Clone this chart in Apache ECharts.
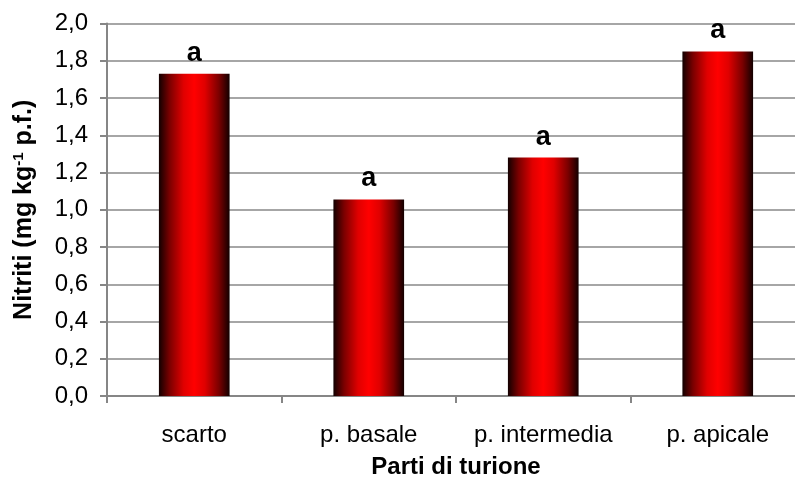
<!DOCTYPE html>
<html>
<head>
<meta charset="utf-8">
<script src="https://cdn.jsdelivr.net/npm/echarts@6/dist/echarts.min.js"></script>
<style>
  html, body { margin: 0; padding: 0; background: #fff; }
  #chart { width: 795px; height: 488px; }
</style>
</head>
<body>
<div id="chart"></div>
<script>
// Parti di turione e contenuto di nitriti
const categories = ['scarto', 'p. basale', 'p. intermedia', 'p. apicale'];
const nitriti = [1.73, 1.055, 1.28, 1.85];
const letters = ['a', 'a', 'a', 'a'];
const yTicks = { min: 0, max: 2, interval: 0.2 };

const FONT = '"Liberation Sans", Arial, sans-serif';

const barGradient = new echarts.graphic.LinearGradient(0, 0, 1, 0, [
  { offset: 0, color: '#120000' },
  { offset: 0.15, color: '#7a0000' },
  { offset: 0.35, color: '#e00000' },
  { offset: 0.5, color: '#ff0000' },
  { offset: 0.65, color: '#e00000' },
  { offset: 0.85, color: '#7a0000' },
  { offset: 1, color: '#120000' }
]);

const chart = echarts.init(document.getElementById('chart'), null, { renderer: 'canvas' });

chart.setOption({
  animation: false,
  backgroundColor: '#ffffff',
  grid: { left: 107, top: 23.5, width: 698, height: 372.5, containLabel: false, outerBoundsMode: 'none' },
  xAxis: {
    type: 'category',
    data: categories,
    name: 'Parti di turione',
    nameLocation: 'middle',
    nameGap: 59,
    nameTextStyle: { fontFamily: FONT, fontSize: 24, fontWeight: 'bold', color: '#000' },
    axisLine: { lineStyle: { color: '#868686', width: 2 } },
    axisTick: { show: true, interval: 0, length: 7, lineStyle: { color: '#868686', width: 2 } },
    axisLabel: { interval: 0, hideOverlap: false, fontFamily: FONT, fontSize: 24, color: '#000', margin: 27 },
    splitLine: { show: false }
  },
  yAxis: {
    type: 'value',
    min: yTicks.min,
    max: yTicks.max,
    interval: yTicks.interval,
    name: '{b|Nitriti (mg kg}{s|-1}{b| p.f.)}',
    nameLocation: 'middle',
    nameGap: 69,
    nameRotate: 90,
    nameTextStyle: {
      rich: {
        b: { fontFamily: FONT, fontSize: 25, fontWeight: 'bold', color: '#000' },
        s: { fontFamily: FONT, fontSize: 15, fontWeight: 'bold', color: '#000', verticalAlign: 'top', padding: [0, 0, 12, 0] }
      }
    },
    axisLine: { show: true, lineStyle: { color: '#868686', width: 2 } },
    axisTick: { show: true, length: 7, lineStyle: { color: '#868686', width: 2 } },
    axisLabel: {
      fontFamily: FONT, fontSize: 24, color: '#000', margin: 19,
      formatter: v => v.toFixed(1).replace('.', ',')
    },
    splitLine: { show: true, lineStyle: { color: '#a6a6a6', width: 2 } }
  },
  series: [{
    type: 'bar',
    data: nitriti,
    barWidth: '40.5%',
    itemStyle: { color: barGradient },
    label: {
      show: true,
      position: 'top',
      distance: 7,
      formatter: p => letters[p.dataIndex],
      fontFamily: FONT, fontSize: 27, fontWeight: 'bold', color: '#000'
    }
  }]
});
</script>
</body>
</html>
